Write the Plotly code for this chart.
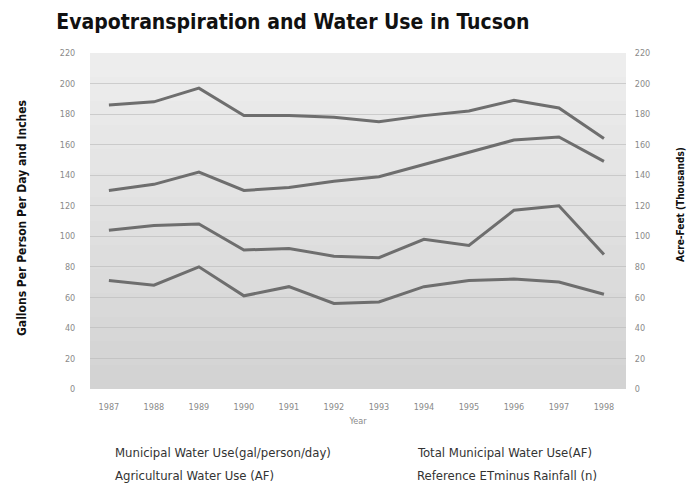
import plotly.graph_objects as go

# ==========================================================
# DATA
# ==========================================================

years = [1987, 1988, 1989, 1990, 1991, 1992, 1993, 1994, 1995, 1996, 1997, 1998]

et_minus_rain = [186, 188, 197, 179, 179, 178, 175, 179, 182, 189, 184, 164]
total_municipal = [130, 134, 142, 130, 132, 136, 139, 147, 155, 163, 165, 149]
agricultural = [104, 107, 108, 91, 92, 87, 86, 98, 94, 117, 120, 88]
municipal_gpcd = [71, 68, 80, 61, 67, 56, 57, 67, 71, 72, 70, 62]

series_names = [
    "Reference ETminus Rainfall (n)",
    "Total Municipal Water Use(AF)",
    "Agricultural Water Use (AF)",
    "Municipal Water Use(gal/person/day)",
]

y_ticks = [0, 20, 40, 60, 80, 100, 120, 140, 160, 180, 200, 220]

# ==========================================================
# FIGURE
# ==========================================================

NARROW = "DejaVu Sans Condensed, Liberation Sans, sans-serif"

fig = go.Figure()

for name, values in zip(series_names,
                        [et_minus_rain, total_municipal, agricultural, municipal_gpcd]):
    fig.add_trace(go.Scatter(
        x=years,
        y=values,
        name=name,
        mode="lines",
        line=dict(color="#6e6e6e", width=3),
        showlegend=False
    ))

# invisible trace to activate the right axis
fig.add_trace(go.Scatter(
    x=years, y=et_minus_rain, yaxis="y2",
    mode="lines", line=dict(width=0), hoverinfo="skip", showlegend=False
))

# gradient-ish plot background (light top, darker bottom)
bands = 14
for i in range(bands):
    shade = 237 - int(i * 26 / (bands - 1))
    fig.add_shape(
        type="rect", xref="paper", yref="paper", layer="below",
        x0=0, x1=1, y0=1 - (i + 1) / bands, y1=1 - i / bands,
        fillcolor=f"rgb({shade},{shade},{shade})", line=dict(width=0)
    )

tick_font = dict(family=NARROW, size=9, color="#8a8a8a")
hidden_tick = "rgba(0,0,0,0)"

# page body adds an 8px offset, so the figure is 8px smaller than the window
fig.update_layout(
    width=690,
    height=476,
    margin=dict(l=82, r=72, t=45, b=95),
    paper_bgcolor="white",
    plot_bgcolor="rgba(0,0,0,0)",
    title=dict(
        text="<b>Evapotranspiration and Water Use in Tucson</b>",
        font=dict(family=NARROW, size=21, color="#111111"),
        x=0.07, xanchor="left", y=0.971, yanchor="middle"
    ),
    xaxis=dict(
        range=[1986.58, 1998.49],
        tickvals=years,
        tickfont=tick_font,
        ticks="outside", ticklen=9, tickcolor=hidden_tick,
        showgrid=False,
        zeroline=False,
        title=dict(text="Year", font=dict(family=NARROW, size=9, color="#8a8a8a"),
                   standoff=6),
    ),
    yaxis=dict(
        range=[0, 220],
        tickvals=y_ticks,
        tickfont=tick_font,
        ticks="outside", ticklen=12, tickcolor=hidden_tick,
        gridcolor="rgba(185,185,185,0.6)",
        gridwidth=1,
        zeroline=False,
    ),
    yaxis2=dict(
        range=[0, 220],
        tickvals=y_ticks,
        tickfont=tick_font,
        ticks="outside", ticklen=6, tickcolor=hidden_tick,
        overlaying="y",
        side="right",
        showgrid=False,
        zeroline=False,
    ),
)

# axis titles
fig.add_annotation(
    text="<b>Gallons Per Person Per Day and Inches</b>",
    xref="paper", yref="paper", x=-68 / 536, y=(381 - 210) / 336,
    textangle=-90, showarrow=False, xanchor="center", yanchor="middle",
    font=dict(family=NARROW, size=12, color="#111111")
)
fig.add_annotation(
    text="<b>Acre-Feet (Thousands)</b>",
    xref="paper", yref="paper", x=1 + 55 / 536, y=(381 - 197) / 336,
    textangle=-90, showarrow=False, xanchor="center", yanchor="middle",
    font=dict(family=NARROW, size=10, color="#111111")
)

# legend text (no symbols in the original)
legend_font = dict(family=NARROW, size=13, color="#333333")
legend_items = [
    ("Municipal Water Use(gal/person/day)", 0.043, -0.1875),
    ("Agricultural Water Use (AF)", 0.043, -0.256),
    ("Total Municipal Water Use(AF)", 0.606, -0.1875),
    ("Reference ETminus Rainfall (n)", 0.606, -0.256),
]
for text, lx, ly in legend_items:
    fig.add_annotation(
        text=text, xref="paper", yref="paper", x=lx, y=ly,
        xanchor="left", yanchor="middle", showarrow=False, font=legend_font
    )

fig.write_html("out.html")
